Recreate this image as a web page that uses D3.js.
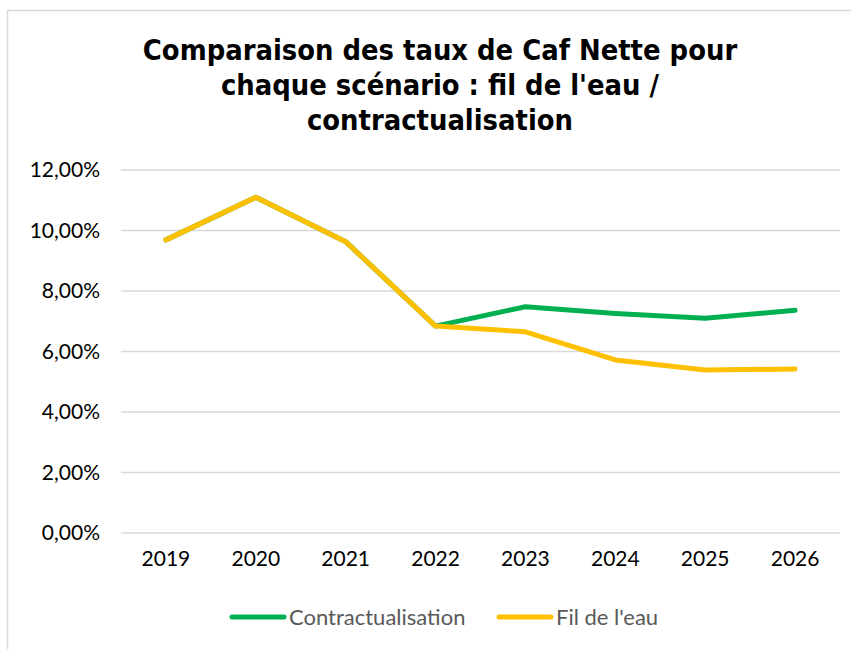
<!DOCTYPE html>
<html><head><meta charset="utf-8">
<script src="https://cdn.jsdelivr.net/npm/d3@7"></script>
<style>body{margin:0;background:#fff;} svg{display:block;}</style>
</head><body>
<svg id="c" width="851" height="649"></svg>
<script>
const titleLines = ["Comparaison des taux de Caf Nette pour", "chaque scénario : fil de l'eau /", "contractualisation"];
const years = ["2019","2020","2021","2022","2023","2024","2025","2026"];
const contractualisation = [9.69, 11.1, 9.63, 6.84, 7.48, 7.26, 7.10, 7.36];
const filDeLEau = [9.69, 11.1, 9.63, 6.84, 6.65, 5.72, 5.39, 5.42];
const yTicks = [0, 2, 4, 6, 8, 10, 12];
const seriesNames = ["Contractualisation", "Fil de l'eau"];
const colors = ["#00B050", "#FFC000"];

const svg = d3.select("#c");
svg.append("path").attr("d","M7.5,649V10.5H851").attr("fill","none")
  .attr("stroke","#d9d9d9").attr("stroke-width",1.5);

const t = svg.append("text").attr("text-anchor","middle")
  .attr("font-family","'DejaVu Sans Condensed','DejaVu Sans',sans-serif").attr("font-weight","bold")
  .attr("font-size",28.8).attr("fill","#000");
titleLines.forEach((l,i)=>t.append("tspan").attr("x",440).attr("y",60+i*35).text(l));

const x = d3.scaleBand().domain(years).range([121,840]);
const y = d3.scaleLinear().domain([0,12]).range([533,170]);

const grid = svg.append("g");
grid.selectAll("line").data(yTicks).join("line")
  .attr("x1",121).attr("x2",840).attr("y1",d=>y(d)).attr("y2",d=>y(d))
  .attr("stroke","#d9d9d9").attr("stroke-width",1.3);

const fmt = d => d.toFixed(2).replace(".",",") + "%";
const yAxis = svg.append("g").attr("transform","translate(100,0)")
  .call(d3.axisLeft(y).tickValues(yTicks).tickFormat(fmt).tickSize(0).tickPadding(0));
yAxis.select(".domain").remove();
yAxis.selectAll("text").attr("font-family","Lato, 'Open Sans', sans-serif").attr("font-size",21).attr("fill","#000");

const xAxis = svg.append("g").attr("transform","translate(0,551)")
  .call(d3.axisBottom(x).tickSize(0).tickPadding(0));
xAxis.select(".domain").remove();
xAxis.selectAll("text").attr("font-family","Lato, 'Open Sans', sans-serif").attr("font-size",21).attr("fill","#000").attr("dy","0.71em");

const line = d3.line().x((d,i)=>x(years[i])+x.bandwidth()/2).y(d=>y(d));
[contractualisation, filDeLEau].forEach((s,k)=>{
  svg.append("path").attr("d",line(s)).attr("fill","none").attr("stroke",colors[k])
    .attr("stroke-width",5).attr("stroke-linecap","round").attr("stroke-linejoin","round");
});

const legX = [230, 497];
seriesNames.forEach((n,k)=>{
  svg.append("line").attr("x1",legX[k]+2).attr("x2",legX[k]+54).attr("y1",617).attr("y2",617)
    .attr("stroke",colors[k]).attr("stroke-width",5).attr("stroke-linecap","round");
  svg.append("text").attr("x",legX[k]+59).attr("y",625).attr("font-family","Lato, 'Open Sans', sans-serif")
    .attr("font-size",22).attr("fill","#595959").text(n);
});
</script>
</body></html>
